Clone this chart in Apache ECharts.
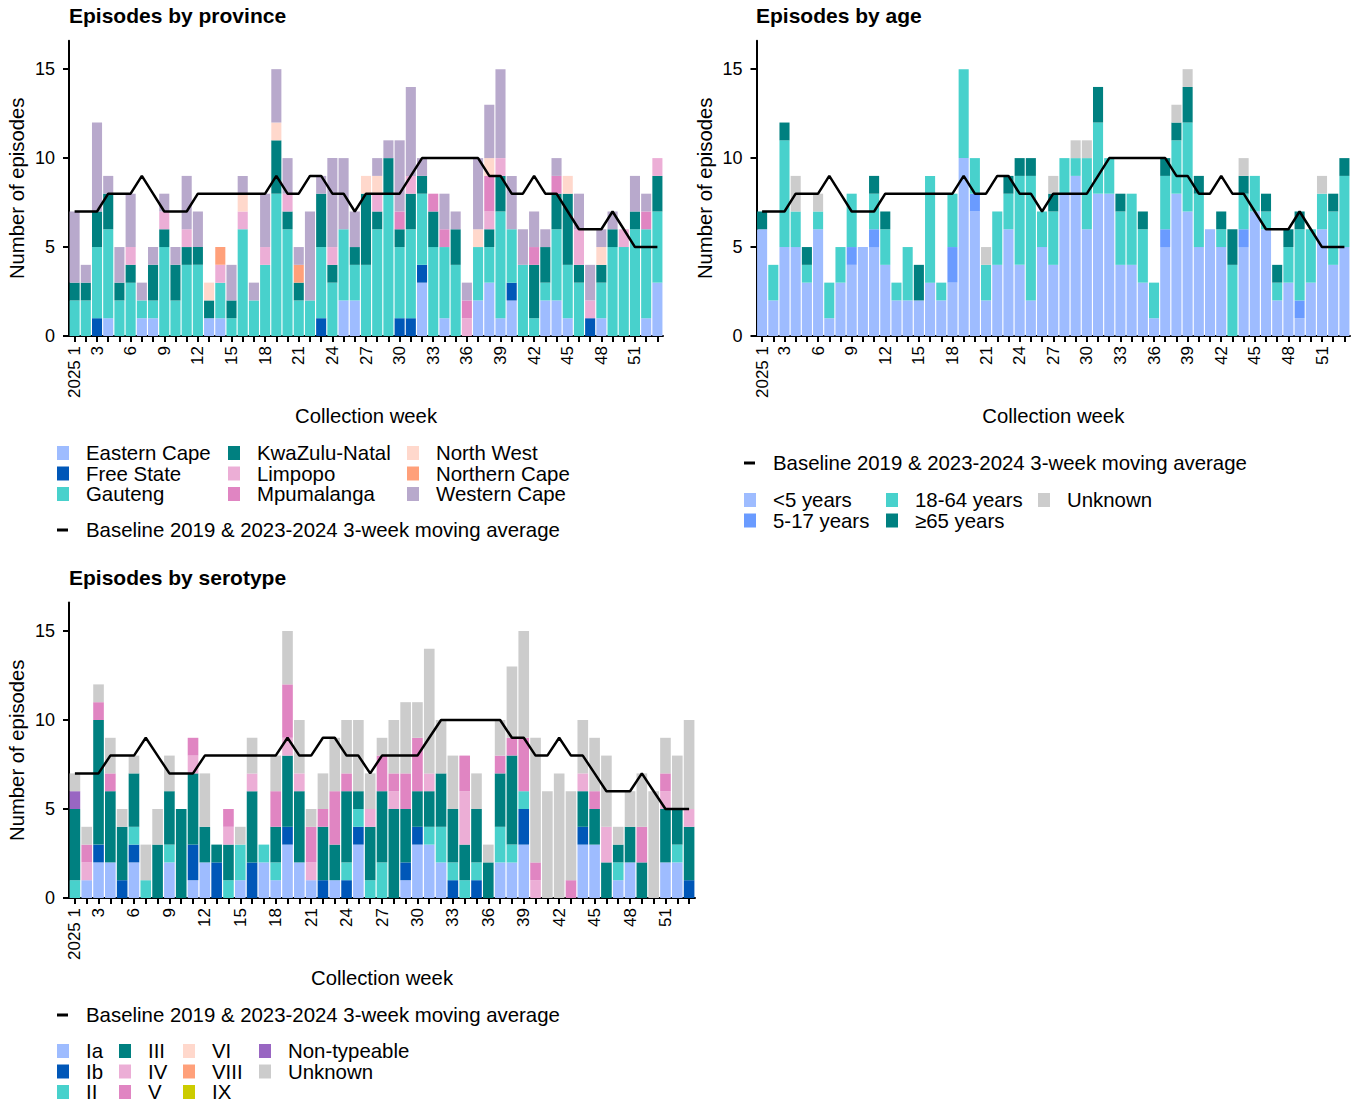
<!DOCTYPE html>
<html>
<head>
<meta charset="utf-8">
<script src="https://cdn.jsdelivr.net/npm/echarts@6/dist/echarts.min.js"></script>
<style>
html,body{margin:0;padding:0;background:#fff;}
#chart{width:1362px;height:1104px;}
</style>
</head>
<body>
<div id="chart"></div>
<script>
// ---------- data ----------
const weeks = ['1','2','3','4','5','6','7','8','9','10','11','12','13','14','15','16','17','18','19','20','21','22','23','24','25','26','27','28','29','30','31','32','33','34','35','36','37','38','39','40','41','42','43','44','45','46','47','48','49','50','51','52','53'];
const xTickLabels = ['2025 1','','3','','','6','','','9','','','12','','','15','','','18','','','21','','','24','','','27','','','30','','','33','','','36','','','39','','','42','','','45','','','48','','','51','',''];
const yTickValues = [0,5,10,15];
const baselineName = 'Baseline 2019 & 2023-2024 3-week moving average';
const baseline = [7,7,7,8,8,8,9,8,7,7,7,8,8,8,8,8,8,8,9,8,8,9,9,8,8,7,8,8,8,8,9,10,10,10,10,10,10,9,9,8,8,9,8,8,7,6,6,6,7,6,5,5,5];

// Episodes by province
const provEasternCape   = [0,0,0,1,0,0,1,1,0,0, 0,0,1,1,0,0,0,0,0,0, 0,0,0,0,2,2,0,0,0,0, 0,3,0,1,0,0,2,3,1,2, 0,0,2,2,1,0,0,1,0,0, 0,1,3];
const provFreeState     = [0,0,1,0,0,0,0,0,0,0, 0,0,0,0,0,0,0,0,0,0, 0,0,1,0,0,0,0,0,0,1, 1,1,0,0,0,0,0,0,0,1, 0,0,0,0,0,0,1,0,0,0, 0,0,0];
const provGauteng       = [2,2,4,5,2,3,1,1,5,2, 4,4,0,2,1,6,2,4,8,6, 2,2,4,3,4,2,4,6,8,4, 5,4,5,4,4,0,3,2,6,3, 4,1,1,4,3,3,0,2,5,5, 6,5,4];
const provKwaZuluNatal  = [1,1,2,2,1,1,0,2,1,2, 1,1,1,0,1,0,0,0,3,1, 1,0,3,1,0,1,4,1,2,1, 2,1,2,0,2,0,0,1,2,0, 0,3,2,2,4,1,0,1,1,0, 1,0,2];
const provLimpopo       = [0,0,0,0,0,1,0,0,1,0, 1,0,0,1,0,1,0,1,0,1, 0,0,0,1,0,0,0,1,0,0, 1,0,0,0,0,1,0,1,1,0, 0,0,0,0,0,2,1,0,0,1, 0,0,1];
const provMpumalanga    = [0,0,0,0,0,0,0,0,0,0, 0,0,0,0,0,0,0,0,0,0, 0,0,0,0,0,0,0,0,0,1, 0,0,1,1,0,1,0,2,0,0, 0,1,0,1,0,0,0,0,0,0, 0,1,0];
const provNorthWest     = [0,0,0,0,0,0,0,0,0,0, 0,0,1,0,0,1,0,0,1,0, 0,0,0,0,0,0,1,1,0,0, 0,0,0,0,0,0,1,1,0,0, 0,0,0,0,1,0,0,1,0,0, 0,0,0];
const provNorthernCape  = [0,0,0,0,0,0,0,0,0,0, 0,0,0,1,0,0,0,0,0,0, 1,0,0,0,0,0,0,0,0,0, 0,0,0,0,0,0,0,0,0,0, 0,0,0,0,0,0,0,0,0,0, 0,0,0];
const provWesternCape   = [4,1,5,1,2,3,1,1,1,1, 3,2,0,0,2,1,1,3,3,2, 1,5,1,5,4,2,0,1,1,4, 5,1,0,2,1,1,4,3,5,3, 2,2,1,1,0,2,2,1,1,0, 2,1,0];

// Episodes by age
const ageUnder5   = [6,2,5,5,3,6,1,3,4,5, 5,4,2,2,2,3,2,3,10,7, 2,4,6,4,2,5,4,8,9,6, 8,8,4,4,3,1,5,8,7,5, 6,5,0,5,7,6,2,3,1,3, 6,4,5];
const age5to17    = [0,0,0,0,0,0,0,0,1,0, 1,0,0,0,0,0,0,2,0,1, 0,0,0,0,0,0,0,0,0,0, 0,0,0,0,0,0,1,0,0,0, 0,0,0,1,0,0,0,0,1,0, 0,0,0];
const age18to64   = [0,2,6,2,1,1,2,2,3,0, 2,2,1,3,0,6,1,3,5,2, 2,3,2,5,7,2,3,2,1,4, 4,2,3,4,3,2,3,3,5,3, 0,1,4,2,2,1,1,2,4,3, 2,3,4];
const age65plus   = [1,0,1,0,1,0,0,0,0,0, 1,1,0,0,2,0,0,0,0,0, 0,0,1,1,1,0,1,0,0,0, 2,0,1,0,1,0,1,1,2,1, 0,1,2,1,0,1,1,1,1,0, 0,1,1];
const ageUnknown  = [0,0,0,2,0,1,0,0,0,0, 0,0,0,0,0,0,0,0,0,0, 1,0,0,0,0,0,1,0,1,1, 0,0,0,0,0,0,0,1,1,0, 0,0,0,1,0,0,0,0,0,0, 1,0,0];

// Episodes by serotype
const serIa      = [0,1,2,2,0,2,0,0,2,0, 1,2,0,0,1,0,2,1,3,2, 1,0,1,0,3,0,0,0,1,3, 3,2,0,0,0,0,2,2,3,0, 0,0,0,3,3,0,1,2,0,0, 2,2,0];
const serIb      = [0,0,1,0,1,1,0,0,0,0, 2,0,2,0,0,2,0,0,1,0, 0,1,0,1,1,0,0,0,1,1, 0,0,1,0,1,0,0,0,2,0, 0,0,0,1,0,0,0,0,0,0, 0,0,1];
const serII      = [1,0,0,0,0,1,1,0,1,0, 0,0,0,1,2,0,1,1,0,0, 0,0,0,1,1,1,2,0,0,0, 1,2,1,1,1,0,2,1,1,0, 0,0,0,0,0,0,1,0,0,0, 0,1,0];
const serIII     = [4,0,7,4,3,3,0,3,3,5, 4,2,1,2,0,4,0,2,4,4, 0,3,2,4,1,3,4,5,3,2, 2,3,3,2,3,2,3,5,0,0, 0,0,0,2,2,2,1,2,2,0, 3,2,3];
const serIV      = [0,1,0,0,0,0,0,0,0,0, 1,0,0,1,0,1,0,0,1,1, 1,0,0,0,0,1,0,1,0,0, 1,0,0,3,0,0,0,0,0,1, 0,0,0,1,0,2,0,0,0,0, 1,0,1];
const serV       = [0,1,1,1,0,0,0,0,0,0, 1,0,0,1,0,0,0,2,3,0, 2,1,3,1,0,0,2,1,2,3, 0,0,0,2,0,0,1,1,3,1, 0,0,1,0,1,0,0,0,2,0, 1,0,0];
const serVI      = [0,0,0,0,0,0,0,0,0,0, 0,0,0,0,0,0,0,0,0,0, 0,0,0,0,0,0,0,0,0,0, 0,0,0,0,0,0,0,0,0,0, 0,0,0,0,0,0,0,0,0,0, 0,0,0];
const serVIII    = [0,0,0,0,0,0,0,0,0,0, 0,0,0,0,0,0,0,0,0,0, 0,0,0,0,0,0,0,0,0,0, 0,0,0,0,0,0,0,0,0,0, 0,0,0,0,0,0,0,0,0,0, 0,0,0];
const serIX      = [0,0,0,0,0,0,0,0,0,0, 0,0,0,0,0,0,0,0,0,0, 0,0,0,0,0,0,0,0,0,0, 0,0,0,0,0,0,0,0,0,0, 0,0,0,0,0,0,0,0,0,0, 0,0,0];
const serNonTypeable = [1,0,0,0,0,0,0,0,0,0, 0,0,0,0,0,0,0,0,0,0, 0,0,0,0,0,0,0,0,0,0, 0,0,0,0,0,0,0,0,0,0, 0,0,0,0,0,0,0,0,0,0, 0,0,0];
const serUnknown = [1,1,1,2,1,1,2,2,2,0, 0,3,0,0,1,2,0,2,3,3, 1,2,3,3,4,2,1,3,4,2, 7,3,3,0,2,1,2,4,6,7, 6,7,5,3,3,4,1,2,3,6, 2,3,5];

// ---------- styling ----------
const FONT = "'Liberation Sans', Arial, Helvetica, sans-serif";
const C = {
  lightBlue:'#9EBCFF', darkBlue:'#0057B8', turq:'#48D1CC', teal:'#008080',
  lightPink:'#ECAED6', midPink:'#E085C2', peach:'#FFD8CC', salmon:'#FFA07A',
  lavender:'#B8A9CC', medBlue:'#6A9BFF', gray:'#CCCCCC', purple:'#9966C2', olive:'#CCCC00'
};

const provSeries = [
  ['Eastern Cape', provEasternCape, C.lightBlue],
  ['Free State', provFreeState, C.darkBlue],
  ['Gauteng', provGauteng, C.turq],
  ['KwaZulu-Natal', provKwaZuluNatal, C.teal],
  ['Limpopo', provLimpopo, C.lightPink],
  ['Mpumalanga', provMpumalanga, C.midPink],
  ['North West', provNorthWest, C.peach],
  ['Northern Cape', provNorthernCape, C.salmon],
  ['Western Cape', provWesternCape, C.lavender]
];
const ageSeries = [
  ['<5 years', ageUnder5, C.lightBlue],
  ['5-17 years', age5to17, C.medBlue],
  ['18-64 years', age18to64, C.turq],
  ['\u226565 years', age65plus, C.teal],
  ['Unknown', ageUnknown, C.gray]
];
const serSeries = [
  ['Ia', serIa, C.lightBlue],
  ['Ib', serIb, C.darkBlue],
  ['II', serII, C.turq],
  ['III', serIII, C.teal],
  ['IV', serIV, C.lightPink],
  ['V', serV, C.midPink],
  ['VI', serVI, C.peach],
  ['VIII', serVIII, C.salmon],
  ['IX', serIX, C.olive],
  ['Non-typeable', serNonTypeable, C.purple],
  ['Unknown', serUnknown, C.gray]
];

function barSeries(list, gi, stack) {
  return list.map(([name, data, color]) => ({
    type: 'bar', name, data, xAxisIndex: gi, yAxisIndex: gi, stack,
    barWidth: '90%', itemStyle: { color }, emphasis: { disabled: true }
  }));
}
function lineSeries(gi) {
  return {
    type: 'line', name: baselineName, data: baseline, xAxisIndex: gi, yAxisIndex: gi,
    symbol: 'none', z: 10, lineStyle: { color: '#000', width: 2.5 }, itemStyle: { color: '#000' },
    emphasis: { disabled: true }
  };
}
function xAx(gi) {
  return {
    type: 'category', gridIndex: gi, data: weeks, boundaryGap: true,
    axisLine: { show: true, lineStyle: { color: '#000', width: 2 } },
    axisTick: { show: true, interval: 0, alignWithLabel: true, length: 6, lineStyle: { color: '#000', width: 2 } },
    axisLabel: { interval: 0, rotate: 90, margin: 10, fontSize: 17, color: '#000', fontFamily: FONT,
      formatter: (v, i) => xTickLabels[i] },
    splitLine: { show: false },
    name: 'Collection week', nameLocation: 'middle', nameGap: 70,
    nameTextStyle: { fontSize: 20.3, color: '#000', fontFamily: FONT }
  };
}
function yAx(gi) {
  return {
    type: 'value', gridIndex: gi, min: 0, max: 16.6, interval: 5,
    axisLine: { show: true, lineStyle: { color: '#000', width: 2 } },
    axisTick: { show: true, length: 6, lineStyle: { color: '#000', width: 2 }, customValues: yTickValues },
    axisLabel: { fontSize: 18, color: '#000', margin: 14, fontFamily: FONT, customValues: yTickValues },
    splitLine: { show: false },
    name: 'Number of episodes', nameLocation: 'middle', nameGap: 42,
    nameTextStyle: { fontSize: 20.3, color: '#000', fontFamily: FONT }
  };
}
function legendCol(left, top, names, isLine) {
  return {
    left, top, orient: 'vertical', padding: 0, itemGap: 0,
    itemWidth: isLine ? 11 : 12, itemHeight: isLine ? 3 : 14, icon: 'rect',
    selectedMode: false, data: names,
    textStyle: { fontSize: 20.4, color: '#000', fontFamily: FONT, lineHeight: 20.5,
      padding: [0, 0, 0, isLine ? 13 : 12] }
  };
}

const option = {
  animation: false,
  backgroundColor: '#fff',
  textStyle: { fontFamily: FONT },
  title: [
    { text: 'Episodes by province', left: 69, top: 5, padding: 0, textStyle: { fontSize: 21, fontWeight: 'bold', color: '#000', fontFamily: FONT } },
    { text: 'Episodes by age', left: 756, top: 5, padding: 0, textStyle: { fontSize: 21, fontWeight: 'bold', color: '#000', fontFamily: FONT } },
    { text: 'Episodes by serotype', left: 69, top: 567, padding: 0, textStyle: { fontSize: 21, fontWeight: 'bold', color: '#000', fontFamily: FONT } }
  ],
  grid: [
    { left: 69, top: 40.7, width: 594, height: 295.3, outerBoundsMode: 'none', containLabel: false },
    { left: 756.5, top: 40.7, width: 593.5, height: 295.3, outerBoundsMode: 'none', containLabel: false },
    { left: 69, top: 602.5, width: 626, height: 295.5, outerBoundsMode: 'none', containLabel: false }
  ],
  xAxis: [xAx(0), xAx(1), xAx(2)],
  yAxis: [yAx(0), yAx(1), yAx(2)],
  legend: [
    legendCol(57, 442.75, ['Eastern Cape', 'Free State', 'Gauteng']),
    legendCol(228, 442.75, ['KwaZulu-Natal', 'Limpopo', 'Mpumalanga']),
    legendCol(407, 442.75, ['North West', 'Northern Cape', 'Western Cape']),
    legendCol(57, 519.75, [baselineName], true),
    legendCol(744, 452.75, [baselineName], true),
    legendCol(744, 489.75, ['<5 years', '5-17 years']),
    legendCol(886, 489.75, ['18-64 years', '\u226565 years']),
    legendCol(1038, 489.75, ['Unknown']),
    legendCol(57, 1004.75, [baselineName], true),
    legendCol(57, 1040.75, ['Ia', 'Ib', 'II']),
    legendCol(119, 1040.75, ['III', 'IV', 'V']),
    legendCol(183, 1040.75, ['VI', 'VIII', 'IX']),
    legendCol(259, 1040.75, ['Non-typeable', 'Unknown'])
  ],
  series: [
    ...barSeries(provSeries, 0, 'prov'), lineSeries(0),
    ...barSeries(ageSeries, 1, 'age'), lineSeries(1),
    ...barSeries(serSeries, 2, 'ser'), lineSeries(2)
  ]
};

const chart = echarts.init(document.getElementById('chart'), null, { renderer: 'svg', width: 1362, height: 1104 });
chart.setOption(option);
</script>
</body>
</html>
